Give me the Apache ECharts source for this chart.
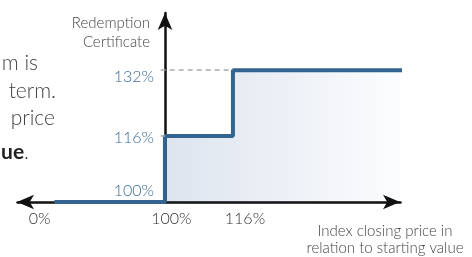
<!DOCTYPE html>
<html>
<head>
<meta charset="utf-8">
<script src="https://cdn.jsdelivr.net/npm/echarts@6/dist/echarts.min.js"></script>
<style>
  html, body { margin: 0; padding: 0; background: #fff; }
  #chart { width: 472px; height: 257px; }
</style>
</head>
<body>
<div id="chart"></div>
<script>
// payout profile: index level (x, % of start) -> redemption (y, %)
const indexLevels = [5, 100, 100, 116, 116, 156];
const redemption = [100, 100, 116, 116, 132, 132];
const xTicks = [0, 100, 116];
const yTicks = [100, 116, 132];
const textLines = ['m is', 'term.', 'price', '{b|ue}.'];

const blue = '#33648f';
const font = 'Lato';
const points = indexLevels.map((x, i) => [x, redemption[i]]);

let chart = echarts.init(document.getElementById('chart'));

chart.setOption({
  animation: false,
  grid: { left: 17, right: 72, top: 13, bottom: 49 },
  xAxis: {
    type: 'value',
    min: -3.8,
    max: 155.3,
    z: 1,
    breaks: [{ start: 20, end: 89, gap: 0 }],
    breakArea: { show: false },
    name: 'Index closing price in\nrelation to starting value',
    nameLocation: 'end',
    nameGap: -15,
    nameTextStyle: {
      fontFamily: font, fontSize: 15, fontWeight: 300, color: '#444',
      align: 'center', verticalAlign: 'top', lineHeight: 17,
      padding: [21, 0, 0, 0]
    },
    axisLine: {
      lineStyle: { color: '#111', width: 2.5 },
      symbol: ['arrow', 'arrow'],
      symbolSize: [11, 17]
    },
    axisTick: { show: false },
    splitLine: { show: false },
    axisLabel: {
      customValues: xTicks,
      margin: 9,
      formatter: v => v === 116 ? '{c|' + v + '%}' : '{a|' + v + '%}',
      rich: {
        a: { fontFamily: font, fontSize: 16, fontWeight: 300, color: '#333', padding: [0, 0, 0, 13] },
        c: { fontFamily: font, fontSize: 16, fontWeight: 300, color: '#333', padding: [0, 0, 0, 24] }
      }
    }
  },
  yAxis: {
    type: 'value',
    min: 100,
    max: 145.9,
    position: 'left',
    offset: -148,
    z: 1,
    name: 'Redemption\nCertificate',
    nameLocation: 'end',
    nameGap: -1,
    nameTextStyle: {
      fontFamily: font, fontSize: 15, fontWeight: 300, color: '#444',
      align: 'right', verticalAlign: 'top', lineHeight: 19,
      padding: [0, 15, 0, 0]
    },
    axisLine: {
      show: true,
      lineStyle: { color: '#111', width: 2.5 },
      symbol: ['none', 'arrow'],
      symbolSize: [11, 17]
    },
    axisTick: { show: false },
    splitLine: { show: false },
    axisLabel: {
      customValues: yTicks,
      margin: 11,
      formatter: v => v === 132 ? '{t|132%}' : v === 116 ? '{m|116%}' : '{b|100%}',
      rich: {
        t: { fontFamily: font, fontSize: 16, fontWeight: 300, color: '#3a6b99', padding: [13, 0, 0, 0] },
        m: { fontFamily: font, fontSize: 16, fontWeight: 300, color: '#3a6b99', padding: [4, 0, 0, 0] },
        b: { fontFamily: font, fontSize: 16, fontWeight: 300, color: '#3a6b99', padding: [0, 0, 23, 0] }
      }
    }
  },
  graphic: textLines.map((t, i) => ({
    type: 'text',
    x: [38, 56, 55, 29][i],
    y: [63, 91, 118, 152][i],
    style: {
      text: t,
      fontFamily: font,
      fontSize: 21,
      fontWeight: 300,
      fill: '#444',
      align: 'right',
      verticalAlign: 'middle',
      rich: { b: { fontFamily: font, fontSize: 21, fontWeight: 'bold', fill: '#222' } }
    }
  })),
  series: [{
    // shaded area, kept under the axes
    type: 'line',
    z: 0,
    data: points,
    symbol: 'none',
    clip: false,
    lineStyle: { width: 0 },
    areaStyle: {
      origin: 'start',
      color: new echarts.graphic.LinearGradient(0, 0, 1, 0, [
        { offset: 0.3, color: '#cdd7e6' },
        { offset: 1, color: '#fafbfd' }
      ])
    },
    markLine: {
      silent: true,
      symbol: 'none',
      label: { show: false },
      lineStyle: { color: '#aaa', type: [5, 4], width: 1.5 },
      data: [
        [{ coord: [99, 132] }, { coord: [116, 132] }],
        [{ coord: [99, 116] }, { coord: [100, 116] }],
        [{ coord: [116, 116] }, { coord: [116, 99] }]
      ]
    }
  }, {
    type: 'line',
    z: 3,
    data: points,
    symbol: 'none',
    clip: false,
    lineStyle: { color: blue, width: 4 }
  }]
});
</script>
</body>
</html>
